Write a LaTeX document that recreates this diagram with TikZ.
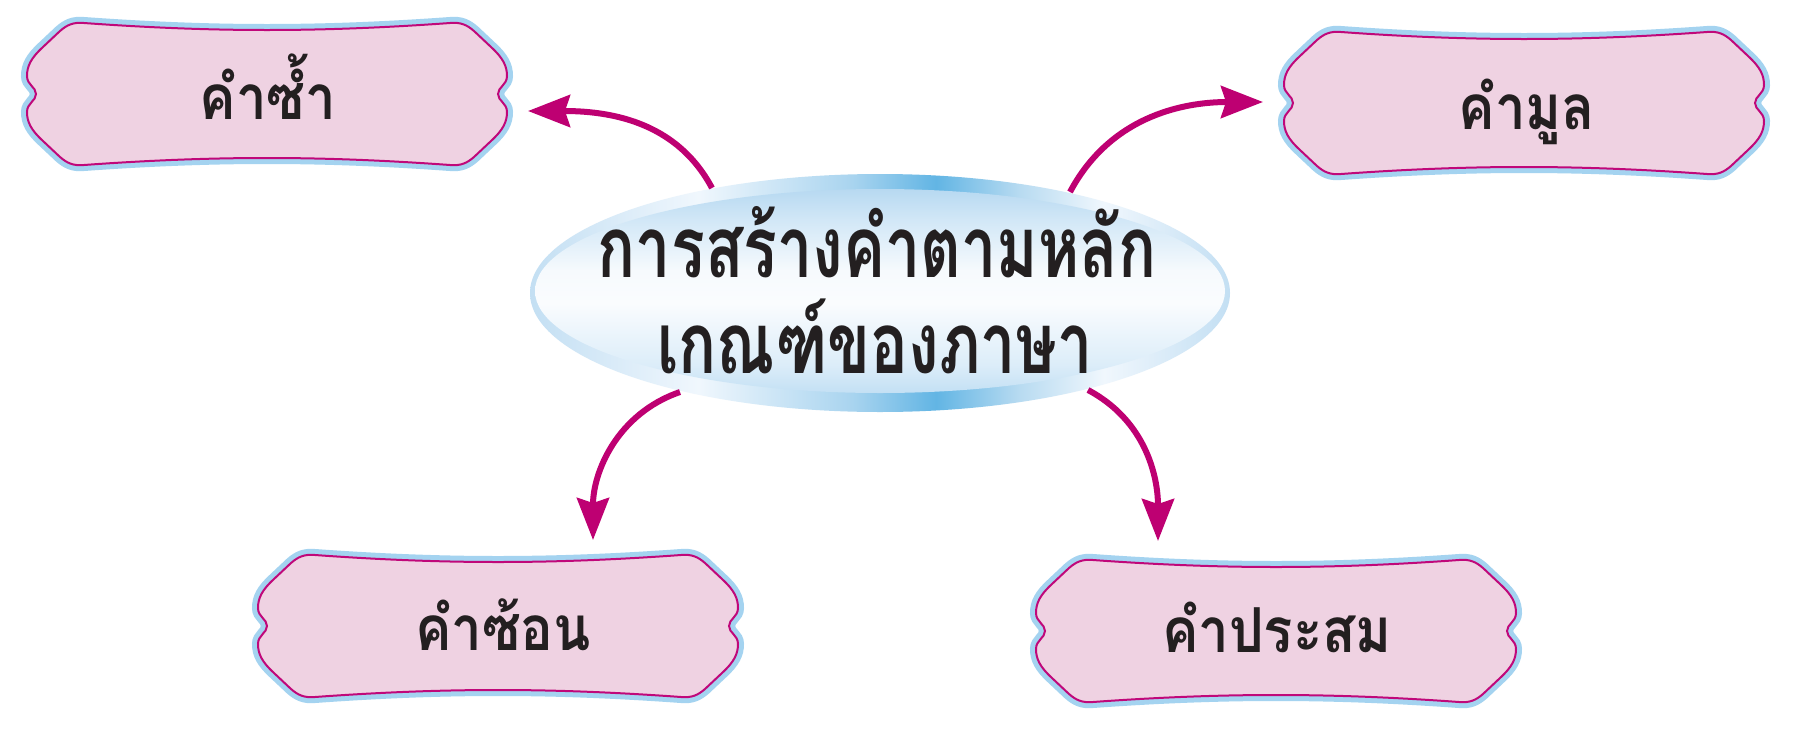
\documentclass[tikz,border=0pt]{standalone}
\usepackage{fontspec}
\newfontfamily\thaifont[Script=Thai,FakeStretch=0.88]{Loma}
\newfontfamily\thaicond[Script=Thai,FakeStretch=0.74]{Loma}
\usetikzlibrary{arrows.meta,shapes.geometric}
\definecolor{boxpink}{HTML}{EFD2E2}
\definecolor{boxmag}{HTML}{C0087A}
\definecolor{boxblue}{HTML}{A4D3F0}
\definecolor{arrcol}{HTML}{BE0072}
\definecolor{txt}{HTML}{231F20}
\definecolor{rimA}{HTML}{C3DFF3}
\definecolor{rimB}{HTML}{F0F7FD}
\definecolor{rimC}{HTML}{A9D4EF}
\definecolor{rimD}{HTML}{62B5E4}
\definecolor{rimE}{HTML}{B8DBF1}
\definecolor{inA}{HTML}{C3E0F4}
\definecolor{inB}{HTML}{DCEDF9}
\definecolor{inC}{HTML}{FAFCFE}
\definecolor{inD}{HTML}{F6FAFD}
\definecolor{inE}{HTML}{D3E8F7}
\definecolor{inF}{HTML}{B7D9F1}
\pgfdeclarehorizontalshading{rimshade}{100bp}{color(0bp)=(rimA); color(25bp)=(rimA); color(37bp)=(rimB); color(48bp)=(rimC); color(54bp)=(rimD); color(60bp)=(rimE); color(66bp)=(rimB); color(75bp)=(rimA); color(100bp)=(rimA)}
\pgfdeclareverticalshading{innershade}{100bp}{color(0bp)=(inA); color(25bp)=(inA); color(32bp)=(inB); color(47bp)=(inC); color(55bp)=(inD); color(67bp)=(inE); color(75bp)=(inF); color(100bp)=(inF)}
\newcommand\wbox[1]{%
  \path[shift={(#1)}, fill=boxpink, draw=boxmag, line width=2pt,
        preaction={draw=boxblue, line width=12pt}]
  (-183,71) .. controls (-100,65) and (-40,64) .. (0,64) .. controls (40,64) and (100,65) .. (183,71)
  .. controls (194,72) and (200,69) .. (207,63) -- (224,47)
  .. controls (236,36) and (240,28) .. (240,18) .. controls (240,9) and (231,7) .. (231,0)
  .. controls (231,-7) and (240,-9) .. (240,-18) .. controls (240,-28) and (236,-36) .. (224,-47)
  -- (207,-63) .. controls (200,-69) and (194,-72) .. (183,-71)
  .. controls (100,-65) and (40,-64) .. (0,-64) .. controls (-40,-64) and (-100,-65) .. (-183,-71)
  .. controls (-194,-72) and (-200,-69) .. (-207,-63) -- (-224,-47)
  .. controls (-236,-36) and (-240,-28) .. (-240,-18) .. controls (-240,-9) and (-231,-7) .. (-231,0)
  .. controls (-231,7) and (-240,9) .. (-240,18) .. controls (-240,28) and (-236,36) .. (-224,47)
  -- (-207,63) .. controls (-200,69) and (-194,72) .. (-183,71) -- cycle;}
\tikzset{
  lbl/.style={anchor=base, inner sep=0pt, text=txt, font=\thaifont\bfseries\fontsize{62}{66}\selectfont},
  ttl/.style={anchor=base, inner sep=0pt, text=txt, font=\thaicond\bfseries\fontsize{85}{90}\selectfont},
  arr/.style={draw=arrcol, line width=6pt, -{Stealth[length=42pt,width=32pt,inset=5pt]}}
}
\begin{document}
\begin{tikzpicture}[x=1pt,y=1pt]
\useasboundingbox (0,0) rectangle (1808,-750);
\fill[white] (0,0) rectangle (1808,-750);
% boxes
\coordinate (c1) at (267,-94);
\coordinate (c2) at (1524,-103);
\coordinate (c3) at (498,-626);
\coordinate (c4) at (1276,-631);
\wbox{c1}\wbox{c2}\wbox{c3}\wbox{c4}
\node[lbl] (box1) at (268,-119) {คำซ้ำ};
\node[lbl] (box2) at (1527,-129) {คำมูล};
\node[lbl] (box3) at (503,-650) {คำซ้อน};
\node[lbl] (box4) at (1277,-652) {คำประสม};
% central ellipse
\node[ellipse, inner sep=0pt, minimum width=700pt, minimum height=238pt, shading=rimshade] (rim) at (880,-293) {};
\node[ellipse, inner sep=0pt, minimum width=690pt, minimum height=204pt, shading=innershade] (main) at (880,-291) {};
\node[ttl] (t1) at (877,-277) {การสร้างคำตามหลัก};
\node[ttl] (t2) at (875,-373) {เกณฑ์ของภาษา};
% arrows
\coordinate (s1) at (712,-188);
\coordinate (e1) at (528,-111);
\coordinate (s2) at (1070,-192);
\coordinate (e2) at (1263,-102);
\coordinate (s3) at (680,-392);
\coordinate (e3) at (593,-540);
\coordinate (s4) at (1088,-390);
\coordinate (e4) at (1158,-541);
\draw[arr] (s1) to[out=118,in=0,looseness=1.0] (e1);
\draw[arr] (s2) to[out=62,in=180,looseness=1.0] (e2);
\draw[arr] (s3) to[out=199,in=90,looseness=1.0] (e3);
\draw[arr] (s4) to[out=-28,in=90,looseness=1.0] (e4);
\end{tikzpicture}
\end{document}
